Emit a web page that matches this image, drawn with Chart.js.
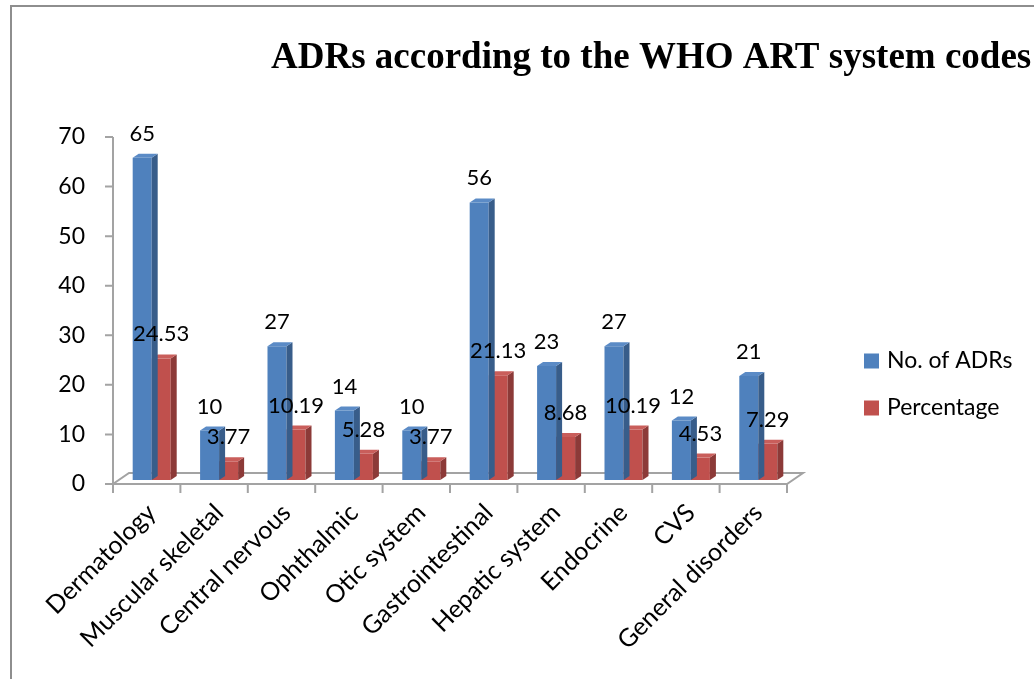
<!DOCTYPE html>
<html>
<head>
<meta charset="utf-8">
<title>ADRs by WHO ART system</title>
<script src="https://cdn.jsdelivr.net/npm/chart.js@4.4.1/dist/chart.umd.min.js"></script>
<style>
  body { margin: 0; background: #fff; overflow: hidden; }
  #wrap { position: relative; width: 1034px; height: 679px; }
  #frame { position: absolute; left: 10px; top: 5px; width: 1100px; height: 700px;
           border-left: 2px solid #8e8e8e; border-top: 2px solid #8e8e8e; }
  canvas { position: absolute; left: 0; top: 0; }
</style>
</head>
<body>
<div id="wrap">
  <div id="frame"></div>
  <canvas id="adr-chart" width="1034" height="679"></canvas>
</div>
<script>
// Chart data
const chartTitle = 'ADRs according to the WHO ART system codes';
const systemCodes = ['Dermatology', 'Muscular skeletal', 'Central nervous', 'Ophthalmic', 'Otic system',
                     'Gastrointestinal', 'Hepatic system', 'Endocrine', 'CVS', 'General disorders'];
const adrCounts = [65, 10, 27, 14, 10, 56, 23, 27, 12, 21];
const adrPercent = [24.53, 3.77, 10.19, 5.28, 3.77, 21.13, 8.68, 10.19, 4.53, 7.29];
const yTicks = [0, 10, 20, 30, 40, 50, 60, 70];

const labelFont = { family: 'Lato', size: 22 };
const tickFont = { family: 'Lato', size: 23 };
const categoryFont = { family: 'Lato', size: 25 };
const legendFont = '23px Lato';
const axisGray = '#a3a3a3';

// face colours for the fake 3D bars
const faces = [
    { front: '#4f81bd', side: '#385d8a', top: '#5b8bc6' },
    { front: '#c0504d', side: '#8c3a38', top: '#c95e5b' }
];
const depthX = 6, depthY = 4;     // bar depth
const floorDX = 16, floorDY = 11; // floor depth
const planeDX = 5, planeDY = 4;   // bars sit behind the front axis

const bar3d = {
    id: 'bar3d',
    beforeDatasetsDraw(chart) {
        const ctx = chart.ctx;
        const area = chart.chartArea;
        const yScale = chart.scales.y;
        const x0 = area.left - planeDX, x1 = area.right - planeDX;
        const yBase = yScale.getPixelForValue(0) + planeDY;
        const yTop = yScale.getPixelForValue(70) + planeDY;

        ctx.save();
        ctx.strokeStyle = axisGray;
        ctx.lineWidth = 2;
        // floor
        ctx.beginPath();
        ctx.moveTo(x0, yBase);
        ctx.lineTo(x1, yBase);
        ctx.lineTo(x1 + floorDX, yBase - floorDY);
        ctx.lineTo(x0 + floorDX, yBase - floorDY);
        ctx.closePath();
        ctx.stroke();
        // value axis with its tick marks
        ctx.beginPath();
        ctx.moveTo(x0, yTop);
        ctx.lineTo(x0, yBase);
        yTicks.forEach(v => {
            const y = yScale.getPixelForValue(v) + planeDY;
            ctx.moveTo(x0 - 8, y);
            ctx.lineTo(x0, y);
        });
        // category tick marks
        const step = (area.right - area.left) / systemCodes.length;
        for (let i = 0; i <= systemCodes.length; i++) {
            const x = x0 + i * step;
            ctx.moveTo(x, yBase);
            ctx.lineTo(x, yBase + 9);
        }
        ctx.stroke();
        ctx.restore();
    },
    afterDatasetDraw(chart, args) {
        const ctx = chart.ctx;
        const col = faces[args.index];
        ctx.save();
        args.meta.data.forEach(bar => {
            const p = bar.getProps(['x', 'y', 'base', 'width'], true);
            const l = p.x - p.width / 2, r = p.x + p.width / 2;
            ctx.fillStyle = col.side;
            ctx.beginPath();
            ctx.moveTo(r, p.y);
            ctx.lineTo(r + depthX, p.y - depthY);
            ctx.lineTo(r + depthX, p.base - depthY);
            ctx.lineTo(r, p.base);
            ctx.closePath();
            ctx.fill();
            ctx.fillStyle = col.top;
            ctx.beginPath();
            ctx.moveTo(l, p.y);
            ctx.lineTo(l + depthX, p.y - depthY);
            ctx.lineTo(r + depthX, p.y - depthY);
            ctx.lineTo(r, p.y);
            ctx.closePath();
            ctx.fill();
        });
        ctx.restore();
    },
    afterDatasetsDraw(chart) {
        const ctx = chart.ctx;
        ctx.save();
        ctx.font = labelFont.size + 'px ' + labelFont.family;
        ctx.fillStyle = '#000';
        ctx.textAlign = 'center';
        ctx.textBaseline = 'middle';
        chart.data.datasets.forEach((ds, di) => {
            chart.getDatasetMeta(di).data.forEach((bar, i) => {
                ctx.fillText(String(ds.data[i]), bar.x, bar.y - 24);
            });
        });
        ctx.restore();
    },
    afterDraw(chart) {
        const ctx = chart.ctx;
        ctx.save();
        // title
        ctx.font = 'bold 37px "Liberation Serif"';
        ctx.fillStyle = '#000';
        ctx.textBaseline = 'alphabetic';
        ctx.fillText(chartTitle, 271, 68);
        // legend
        ctx.font = legendFont;
        ctx.textBaseline = 'middle';
        const legendY = [361, 408];
        chart.data.datasets.forEach((ds, i) => {
            ctx.fillStyle = ds.backgroundColor;
            ctx.fillRect(864, legendY[i] - 7.5, 15, 15);
            ctx.fillStyle = '#000';
            ctx.fillText(ds.label, 887, legendY[i]);
        });
        ctx.restore();
    }
};

new Chart(document.getElementById('adr-chart'), {
    type: 'bar',
    data: {
        labels: systemCodes,
        datasets: [{
            label: 'No. of ADRs',
            data: adrCounts,
            backgroundColor: faces[0].front
        }, {
            label: 'Percentage',
            data: adrPercent,
            backgroundColor: faces[1].front
        }]
    },
    options: {
        responsive: false,
        animation: false,
        devicePixelRatio: 1,
        layout: { padding: { top: 133, right: 242, left: 0, bottom: 0 } },
        datasets: { bar: { barPercentage: 1, categoryPercentage: 0.564 } },
        plugins: {
            legend: { display: false },
            title: { display: false },
            tooltip: { enabled: false }
        },
        scales: {
            x: {
                grid: { display: false },
                border: { display: false },
                ticks: { font: categoryFont, color: '#000', minRotation: 45, maxRotation: 45, autoSkip: false, padding: 10 },
                afterFit(scale) { scale.height = 199; }
            },
            y: {
                min: 0,
                max: 70,
                grid: { display: false },
                border: { display: false },
                ticks: { stepSize: 10, font: tickFont, color: '#000', padding: 25, labelOffset: 4 },
                afterFit(scale) { scale.width = 118; }
            }
        }
    },
    plugins: [bar3d]
});
</script>
</body>
</html>
